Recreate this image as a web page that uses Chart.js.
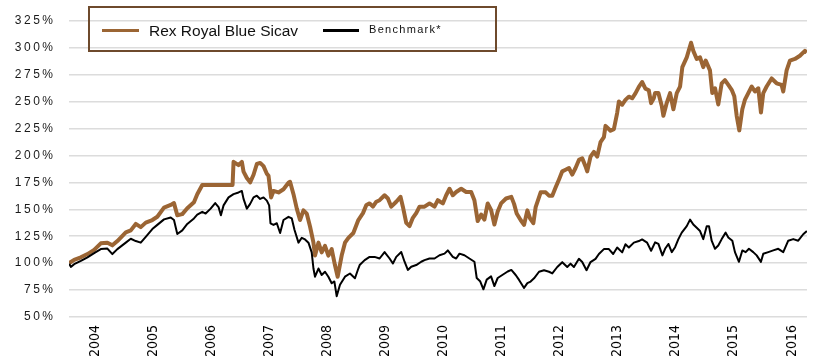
<!DOCTYPE html>
<html><head><meta charset="utf-8">
<script src="https://cdn.jsdelivr.net/npm/chart.js@4.4.0/dist/chart.umd.min.js"></script>
<style>
html,body{margin:0;padding:0;background:#fff;}
#wrap{position:relative;width:823px;height:357px;overflow:hidden;}
canvas{position:absolute;left:0;top:0;}
.lg{position:absolute;white-space:nowrap;}
</style></head><body>
<div id="wrap"><canvas id="c" width="823" height="357"></canvas>
<div class="lg" style="left:88px;top:6px;width:409px;height:46px;border:2px solid #6e4a2c;box-sizing:border-box;"></div>
<div class="lg" style="left:102px;top:29px;width:37px;height:3px;background:#9b6534"></div>
<div class="lg" id="n0" style="left:149px;top:23px;font-family:'Liberation Sans',Arial,sans-serif;font-size:15.5px;line-height:15.5px;color:#111;"></div>
<div class="lg" style="left:323px;top:29px;width:36px;height:3px;background:#000"></div>
<div class="lg" id="n1" style="left:369px;top:24px;font-family:'Liberation Sans',Arial,sans-serif;font-size:11px;line-height:11px;letter-spacing:1.3px;color:#111;"></div>
</div>
<script>
const seriesNames = ['Rex Royal Blue Sicav', 'Benchmark*'];
const tickYears = [2004,2005,2006,2007,2008,2009,2010,2011,2012,2013,2014,2015,2016];
const yTicks = [50,75,100,125,150,175,200,225,250,275,300,325];

const fundYears = [2003.553,2003.582,2003.639,2003.754,2003.868,2003.983,2004.098,2004.211,2004.297,2004.383,2004.528,2004.614,2004.700,2004.786,2004.872,2004.985,2005.071,2005.186,2005.302,2005.358,2005.415,2005.501,2005.587,2005.702,2005.759,2005.845,2006.367,2006.384,2006.470,2006.527,2006.556,2006.613,2006.670,2006.728,2006.785,2006.842,2006.900,2006.957,2006.986,2007.031,2007.072,2007.158,2007.244,2007.330,2007.357,2007.416,2007.473,2007.529,2007.588,2007.644,2007.701,2007.760,2007.787,2007.846,2007.902,2007.959,2008.017,2008.074,2008.131,2008.177,2008.246,2008.303,2008.362,2008.447,2008.533,2008.613,2008.671,2008.727,2008.784,2008.843,2008.899,2008.985,2009.042,2009.100,2009.186,2009.260,2009.300,2009.358,2009.415,2009.472,2009.530,2009.587,2009.673,2009.759,2009.845,2009.902,2009.988,2010.046,2010.103,2010.160,2010.218,2010.304,2010.390,2010.476,2010.532,2010.589,2010.648,2010.704,2010.761,2010.819,2010.876,2010.933,2010.991,2011.077,2011.168,2011.215,2011.260,2011.328,2011.387,2011.444,2011.490,2011.547,2011.587,2011.673,2011.759,2011.817,2011.873,2011.930,2011.989,2012.045,2012.102,2012.160,2012.217,2012.274,2012.332,2012.389,2012.446,2012.475,2012.532,2012.590,2012.647,2012.704,2012.762,2012.790,2012.876,2012.934,2012.991,2013.020,2013.077,2013.133,2013.192,2013.249,2013.305,2013.364,2013.420,2013.477,2013.535,2013.575,2013.621,2013.644,2013.701,2013.759,2013.787,2013.845,2013.902,2013.959,2014.017,2014.074,2014.113,2014.189,2014.263,2014.302,2014.361,2014.418,2014.474,2014.516,2014.589,2014.629,2014.676,2014.732,2014.791,2014.847,2014.905,2014.963,2015.008,2015.049,2015.094,2015.146,2015.192,2015.249,2015.308,2015.364,2015.421,2015.467,2015.507,2015.565,2015.651,2015.737,2015.823,2015.851,2015.909,2015.966,2016.052,2016.138,2016.224,2016.258];
const fundValues = [100,101,103,105.4,108.4,112.3,118.4,119,116.5,120.5,128.6,130.4,136.4,133.4,137.6,140,143,151.5,154,155.7,144.5,145.5,151,156.6,164,172.5,172.5,194,191,194,185,179,175,182,192,193,190,183,181,161,167,165.6,168.6,174.6,175.5,164,150.6,140,149,146,134,119,107,119,110,116,107,113,98,87.4,107,119,123.5,128,140,146.4,154,155.4,152.4,157,158.4,163,160,152.4,157,161.5,152.4,137.4,134.4,142,146.4,152.4,152.4,155.4,152.4,158.4,155.4,163,169,163,166,169,166,166,158.4,139,145,140.4,155.4,149.4,135.9,148,155.4,160,161.5,155,146,140,135.5,149,141.6,137,152,165.7,165.7,162.6,162.6,170.2,177.7,185.2,186.7,188.3,182.2,188.3,195.8,197.3,189.8,185.2,198.8,203.3,198.8,212.3,216.9,227.4,222.9,224.4,239.5,250,247,251.5,254.5,253,257.5,263.6,268.1,262,260.5,248.5,253,258,257.8,245.8,236.7,248.8,257.8,242.8,257.8,263.9,281.9,291,304.5,297,289.5,291,281.9,288,278.9,257.8,262.3,247.3,266.9,269.9,265.4,260.8,254.8,236.7,223.2,242.8,251.8,257.8,263.9,259.3,262.3,239.8,257.8,263.9,271.4,266.9,265.4,259.3,278.9,288,289.5,292.5,297,295.5];

const benchYears = [2003.553,2003.582,2003.639,2003.754,2003.868,2003.983,2004.098,2004.211,2004.297,2004.383,2004.528,2004.614,2004.700,2004.786,2004.872,2004.985,2005.071,2005.186,2005.302,2005.358,2005.415,2005.501,2005.587,2005.702,2005.759,2005.845,2005.903,2005.989,2006.068,2006.126,2006.166,2006.212,2006.298,2006.384,2006.470,2006.527,2006.556,2006.613,2006.670,2006.728,2006.785,2006.842,2006.900,2006.957,2006.997,2007.020,2007.072,2007.129,2007.186,2007.244,2007.330,2007.387,2007.433,2007.502,2007.559,2007.615,2007.674,2007.730,2007.760,2007.787,2007.846,2007.902,2007.959,2008.017,2008.074,2008.120,2008.160,2008.217,2008.303,2008.389,2008.475,2008.533,2008.556,2008.642,2008.727,2008.813,2008.899,2008.985,2009.071,2009.128,2009.186,2009.272,2009.329,2009.386,2009.444,2009.530,2009.616,2009.673,2009.759,2009.845,2009.931,2010.017,2010.074,2010.160,2010.218,2010.275,2010.360,2010.446,2010.532,2010.572,2010.630,2010.687,2010.744,2010.819,2010.876,2010.933,2011.019,2011.105,2011.168,2011.243,2011.301,2011.387,2011.444,2011.500,2011.559,2011.645,2011.731,2011.817,2011.873,2011.959,2012.045,2012.131,2012.188,2012.246,2012.332,2012.389,2012.463,2012.532,2012.618,2012.676,2012.762,2012.848,2012.922,2012.991,2013.077,2013.133,2013.192,2013.278,2013.364,2013.420,2013.506,2013.575,2013.644,2013.701,2013.770,2013.816,2013.873,2013.931,2013.988,2014.045,2014.103,2014.189,2014.246,2014.302,2014.361,2014.418,2014.474,2014.533,2014.572,2014.618,2014.676,2014.732,2014.791,2014.859,2014.905,2014.974,2015.019,2015.088,2015.146,2015.204,2015.260,2015.334,2015.393,2015.467,2015.507,2015.593,2015.679,2015.765,2015.851,2015.937,2016.023,2016.109,2016.195,2016.258];
const benchValues = [99.4,96.5,99,102,105.4,109.3,113,113.5,108.4,113,119,122.6,120.5,119,124.4,131.6,135.5,140.6,142.4,140,127,130.4,136.4,141.5,145,147.6,146,150.6,155.7,152,144.5,153.6,161,164,165.6,167,159.6,150.6,155,161,162.6,159.6,161,158,153.6,137,135.5,137,128,140,143,141.5,131,119,123.5,122,119,110,95,87.4,95,89,92,87.4,81.3,83,69.3,80,87.4,90.4,86,95,98.2,102.8,105.8,105.8,104.3,110.3,104.3,99.7,105.8,110.3,101.3,93.7,96.7,98.2,101.3,102.8,104.3,104.3,107.3,108.8,111.8,105.8,104.3,108.8,107.3,104.3,101.3,86.2,83.2,75.7,84.7,87.7,78.7,86.2,89.2,92.2,93.7,89,84.4,77,81.4,82.9,85.9,92,93.4,92,90.4,96.4,100.9,96.4,99.5,96.4,104,101,93.4,101,104,108.5,113,113,108.5,114.5,110,117.5,114.5,119,120.5,122,119,111.5,119.3,117.8,107.2,113.3,117.8,110.2,114.8,122.3,128.3,134.3,140.4,135.8,132.8,129.8,122.3,134.3,134.3,120.8,113.3,116.3,122.3,128.3,123.8,120.8,110.2,101.2,111.8,110.2,113.3,110.2,107.2,101.2,108.7,110.2,111.8,113.3,110.2,120.8,122.3,120.8,126.8,129.8];

document.getElementById('n0').textContent = seriesNames[0];
document.getElementById('n1').textContent = seriesNames[1];

const spacingPlugin = {
  id: 'ySpacing',
  afterLayout(chart) {
    const s = chart.scales.y;
    if (s && !s._wrappedLabels) {
      const orig = s.drawLabels.bind(s);
      s.drawLabels = function (area) {
        const c = this.ctx; c.save(); c.letterSpacing = '2.5px'; orig(area); c.restore();
      };
      s._wrappedLabels = true;
    }
  }
};

new Chart(document.getElementById('c'), {
  type: 'line',
  data: {
    datasets: [
      { label: seriesNames[0], data: fundYears.map((x, i) => ({ x, y: fundValues[i] })),
        borderColor: '#9b6534', borderWidth: 4, pointRadius: 0, order: 1, borderJoinStyle: 'round', tension: 0 },
      { label: seriesNames[1], data: benchYears.map((x, i) => ({ x, y: benchValues[i] })),
        borderColor: '#000000', borderWidth: 2, pointRadius: 0, order: 0, borderJoinStyle: 'round', tension: 0 }
    ]
  },
  plugins: [spacingPlugin],
  options: {
    responsive: false, animation: false, events: [],
    layout: { padding: { left: 0, right: 16, top: 14, bottom: 0 } },
    plugins: { legend: { display: false }, tooltip: { enabled: false } },
    scales: {
      x: {
        type: 'linear', min: 2003.55, max: 2016.26,
        grid: { display: false, drawTicks: false }, border: { display: false },
        afterBuildTicks: s => { s.ticks = tickYears.map(v => ({ value: v })); },
        afterFit: s => { s.height = 40; },
        ticks: { autoSkip: false, minRotation: 90, maxRotation: 90, padding: 8, color: '#000',
          font: { family: "'Liberation Sans Narrow','DejaVu Sans Condensed','Liberation Sans',Arial", size: 14 },
          callback: v => String(v) }
      },
      y: {
        min: 50, max: 325,
        afterBuildTicks: s => { s.ticks = yTicks.map(v => ({ value: v })); },
        afterFit: s => { s.width = 69; },
        grid: { color: '#dcdcdc', lineWidth: 1.5, drawTicks: false }, border: { display: false },
        ticks: { padding: 13.5, color: '#1a1a1a', font: { family: "'Liberation Sans',Arial", size: 12 },
          callback: v => v + '%' }
      }
    }
  }
});
</script>
</body></html>
